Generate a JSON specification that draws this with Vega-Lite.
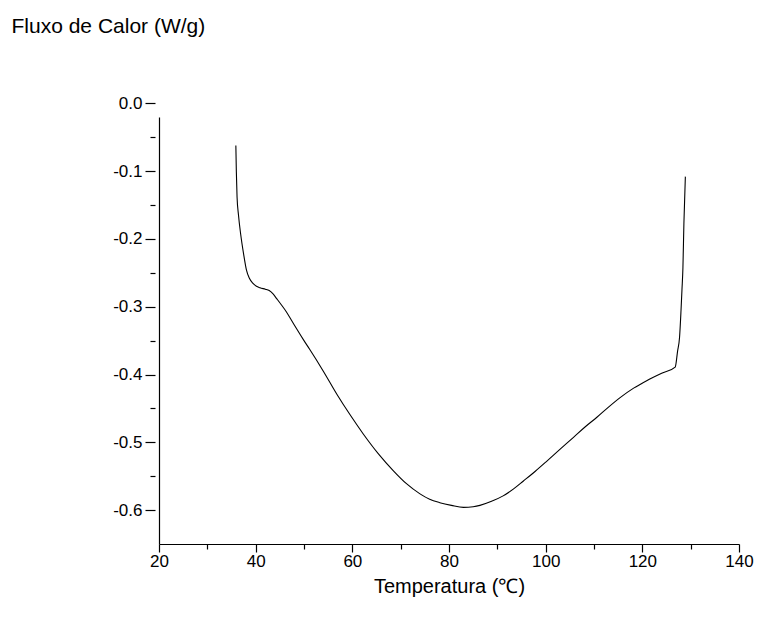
{
  "$schema": "https://vega.github.io/schema/vega-lite/v6.json",
  "autosize": {"type": "none"},
  "width": 580,
  "height": 427,
  "padding": {"left": 159, "top": 117, "right": 19, "bottom": 73},
  "background": "white",
  "config": {
    "view": {"stroke": null},
    "font": "Liberation Sans",
    "axis": {"domainColor": "black", "tickColor": "black", "labelColor": "black", "titleColor": "black", "grid": false, "labelFont": "Liberation Sans", "titleFont": "Liberation Sans", "titleFontWeight": "normal", "domainWidth": 1.2, "tickWidth": 1.2, "labelFlush": false, "labelOverlap": false}
  },
  "data": {"values": [
    {"t": 35.9, "f": -0.062},
    {"t": 36.0, "f": -0.1},
    {"t": 36.15, "f": -0.138},
    {"t": 36.45, "f": -0.165},
    {"t": 36.9, "f": -0.193},
    {"t": 37.5, "f": -0.222},
    {"t": 38.1, "f": -0.246},
    {"t": 38.7, "f": -0.258},
    {"t": 39.5, "f": -0.266},
    {"t": 40.9, "f": -0.272},
    {"t": 42.0, "f": -0.274},
    {"t": 42.8, "f": -0.276},
    {"t": 43.6, "f": -0.281},
    {"t": 44.35, "f": -0.288},
    {"t": 45.3, "f": -0.297},
    {"t": 46.4, "f": -0.308},
    {"t": 47.5, "f": -0.321},
    {"t": 48.6, "f": -0.334},
    {"t": 50.0, "f": -0.35},
    {"t": 51.2, "f": -0.363},
    {"t": 54.0, "f": -0.395},
    {"t": 56.8, "f": -0.429},
    {"t": 59.5, "f": -0.459},
    {"t": 62.3, "f": -0.488},
    {"t": 65.4, "f": -0.517},
    {"t": 68.5, "f": -0.542},
    {"t": 71.2, "f": -0.561},
    {"t": 74.0, "f": -0.576},
    {"t": 76.0, "f": -0.584},
    {"t": 78.1, "f": -0.589},
    {"t": 80.5, "f": -0.593},
    {"t": 83.0, "f": -0.596},
    {"t": 85.0, "f": -0.595},
    {"t": 86.4, "f": -0.593},
    {"t": 88.8, "f": -0.587},
    {"t": 91.2, "f": -0.579},
    {"t": 93.3, "f": -0.569},
    {"t": 95.4, "f": -0.557},
    {"t": 97.8, "f": -0.543},
    {"t": 100.2, "f": -0.528},
    {"t": 103.0, "f": -0.51},
    {"t": 105.7, "f": -0.493},
    {"t": 108.2, "f": -0.477},
    {"t": 110.6, "f": -0.463},
    {"t": 113.0, "f": -0.448},
    {"t": 115.4, "f": -0.434},
    {"t": 118.2, "f": -0.42},
    {"t": 120.9, "f": -0.409},
    {"t": 124.0, "f": -0.398},
    {"t": 126.8, "f": -0.389},
    {"t": 127.3, "f": -0.365},
    {"t": 127.7, "f": -0.345},
    {"t": 128.0, "f": -0.306},
    {"t": 128.2, "f": -0.275},
    {"t": 128.4, "f": -0.242},
    {"t": 128.6, "f": -0.177},
    {"t": 128.9, "f": -0.108}
  ]},
  "layer": [
    {
      "mark": {"type": "line", "color": "black", "strokeWidth": 1.1, "interpolate": "monotone"},
      "encoding": {
        "x": {"field": "t", "type": "quantitative", "scale": {"domain": [20, 140], "nice": false, "zero": false},
          "axis": {"orient": "bottom", "values": [20, 40, 60, 80, 100, 120, 140], "tickSize": 8, "labelFontSize": 17, "labelPadding": 1, "title": "Temperatura (℃)", "titleFontSize": 20, "titlePadding": 7}},
        "y": {"field": "f", "type": "quantitative", "scale": {"domain": [-0.65, -0.02], "nice": false, "zero": false},
          "axis": {"orient": "left", "ticks": false, "labels": false, "domain": true, "title": "Fluxo de Calor (W/g)", "titleAngle": 0, "titleAlign": "left", "titleBaseline": "middle", "titleX": -148, "titleY": -91, "titleFontSize": 21}}
      }
    },
    {
      "mark": {"type": "line", "opacity": 0},
      "encoding": {
        "x": {"field": "t", "type": "quantitative",
          "axis": {"orient": "bottom", "values": [30, 50, 70, 90, 110, 130], "tickSize": 5, "labels": false, "domain": false, "title": null}},
        "y": {"field": "f", "type": "quantitative", "scale": {"domain": [-0.65, 0], "range": [427, -13.6], "nice": false, "zero": false},
          "axis": {"orient": "left", "values": [0, -0.1, -0.2, -0.3, -0.4, -0.5, -0.6], "labelExpr": "replace(format(datum.value, '.1f'), '\u2212', '-')", "tickSize": 10, "offset": 4, "domain": false, "labelFontSize": 17, "labelPadding": 3, "title": null}}
      }
    },
    {
      "mark": {"type": "line", "opacity": 0},
      "encoding": {
        "x": {"field": "t", "type": "quantitative", "axis": null},
        "y": {"field": "f", "type": "quantitative", "scale": {"domain": [-0.65, 0], "range": [427, -13.6], "nice": false, "zero": false},
          "axis": {"orient": "left", "values": [-0.05, -0.15, -0.25, -0.35, -0.45, -0.55], "tickSize": 5, "offset": 4, "domain": false, "labels": false, "title": null}}
      }
    }
  ],
  "resolve": {"scale": {"y": "independent"}, "axis": {"x": "independent", "y": "independent"}}
}
